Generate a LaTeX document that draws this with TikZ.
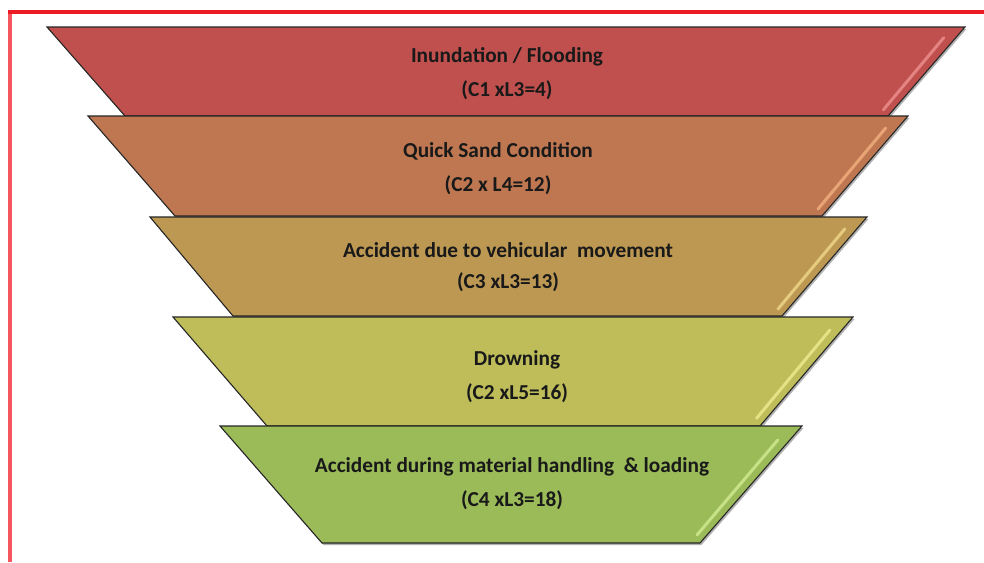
\documentclass[tikz,border=0pt]{standalone}
\usepackage{fontspec}
\setmainfont{Carlito}
\usetikzlibrary{shadows,calc}
\definecolor{c1}{RGB}{192,80,77}
\definecolor{c2}{RGB}{190,119,80}
\definecolor{c3}{RGB}{188,152,83}
\definecolor{c4}{RGB}{190,189,90}
\definecolor{c5}{RGB}{155,187,89}
\definecolor{h1}{RGB}{240,150,150}
\definecolor{h2}{RGB}{245,180,130}
\definecolor{h3}{RGB}{245,220,140}
\definecolor{h4}{RGB}{240,240,150}
\definecolor{h5}{RGB}{215,238,150}
\definecolor{frameRed}{RGB}{237,28,36}
\definecolor{frameRedL}{RGB}{245,85,95}
\tikzset{
  trap/.style={draw=black!85, line width=1.1pt, line join=miter,
    drop shadow={shadow xshift=1.5pt, shadow yshift=-2pt, opacity=0.3, fill=black}},
  lbl/.style={font=\bfseries\fontsize{21.3}{24}\selectfont, text=black!90, inner sep=0pt},
  gloss/.style={line width=3pt, line cap=round, opacity=0.75},
}
\begin{document}
\begin{tikzpicture}[x=1pt,y=-1pt]
\useasboundingbox (0,0) rectangle (984,562);
\fill[white] (0,0) rectangle (984,562);
% frame
\draw[frameRedL, line width=4pt] (10,562) -- (10,12);
\draw[frameRed, line width=4pt] (8,12) -- (984,12);
% trapezoid corners
\coordinate (t1a) at (47,27);  \coordinate (t1b) at (965,27);  \coordinate (t1c) at (888,116); \coordinate (t1d) at (125,116);
\coordinate (t2a) at (88,116); \coordinate (t2b) at (908,116); \coordinate (t2c) at (822,216); \coordinate (t2d) at (175,216);
\coordinate (t3a) at (150,217);\coordinate (t3b) at (867,217); \coordinate (t3c) at (782,316); \coordinate (t3d) at (233,316);
\coordinate (t4a) at (173,317);\coordinate (t4b) at (853,317); \coordinate (t4c) at (760,426); \coordinate (t4d) at (267,426);
\coordinate (t5a) at (220,426);\coordinate (t5b) at (802,426); \coordinate (t5c) at (700,543); \coordinate (t5d) at (322,543);
\foreach \i/\c/\h in {1/c1/h1,2/c2/h2,3/c3/h3,4/c4/h4,5/c5/h5}{
  \path[trap, fill=\c] (t\i a) -- (t\i b) -- (t\i c) -- (t\i d) -- cycle;
  \draw[gloss, \h] ($(t\i b)!0.12!(t\i c)+(-12,0)$) -- ($(t\i b)!0.93!(t\i c)+(-10,0)$);
}
% labels
\node[lbl] (n1a) at (507,57) {Inundation / Flooding};
\node[lbl] (n1b) at (507,90) {(C1 xL3=4)};
\node[lbl] (n2a) at (498,151) {Quick Sand Condition};
\node[lbl] (n2b) at (498,185) {(C2 x L4=12)};
\node[lbl] (n3a) at (508,250) {Accident due to vehicular\ \ movement};
\node[lbl] (n3b) at (508,282) {(C3 xL3=13)};
\node[lbl] (n4a) at (517,360) {Drowning};
\node[lbl] (n4b) at (517,393) {(C2 xL5=16)};
\node[lbl] (n5a) at (512,467) {Accident during material handling\ \ \& loading};
\node[lbl] (n5b) at (512,500) {(C4 xL3=18)};
\end{tikzpicture}
\end{document}
